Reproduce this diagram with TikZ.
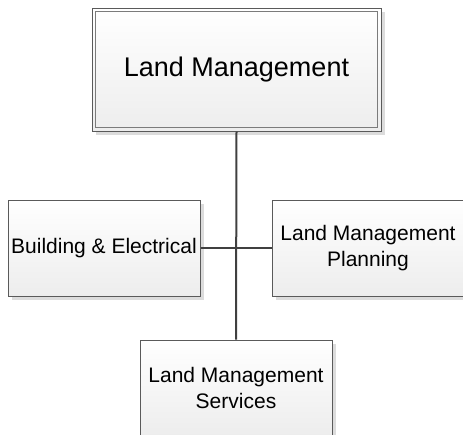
\documentclass[tikz,border=0pt]{standalone}
\usepackage{fontspec}
\setmainfont{Liberation Sans}
\usetikzlibrary{shadows}
\definecolor{boxline}{HTML}{5A5A5A}
\definecolor{boxbot}{HTML}{EDEDED}
\definecolor{shadowc}{HTML}{DCDCDC}
\definecolor{conn}{HTML}{404040}
\tikzset{
  orgbox/.style={rectangle, draw=boxline, line width=1pt, top color=white, bottom color=boxbot,
    drop shadow={shadow xshift=3.5pt, shadow yshift=-3.5pt, fill=shadowc, opacity=1},
    align=center, inner sep=0pt, font=\fontsize{21}{26}\selectfont},
  topbox/.style={orgbox, minimum width=289pt, minimum height=123pt, font=\fontsize{27}{30}\selectfont},
  subbox/.style={orgbox, minimum width=192pt, minimum height=96pt},
  connline/.style={draw=conn, line width=2pt}
}
\begin{document}
\begin{tikzpicture}[x=1pt,y=-1pt]
\useasboundingbox (0,0) rectangle (463,434);
\node[topbox] (top) at (236.5,69.5) {Land Management};
\draw[draw=boxline!80, line width=1pt] ([shift={(4pt,-4pt)}]top.north west) rectangle ([shift={(-4pt,4.5pt)}]top.south east);
\node[subbox] (left) at (104,248) {Building \& Electrical};
\node[subbox] (right) at (368,248) {Land Management\\Planning};
\node[subbox] (bottom) at (236,388) {Land Management\\Services};
\draw[connline] (top.south) -- (bottom.north);
\draw[connline] (left.east) -- (right.west);
\end{tikzpicture}
\end{document}
